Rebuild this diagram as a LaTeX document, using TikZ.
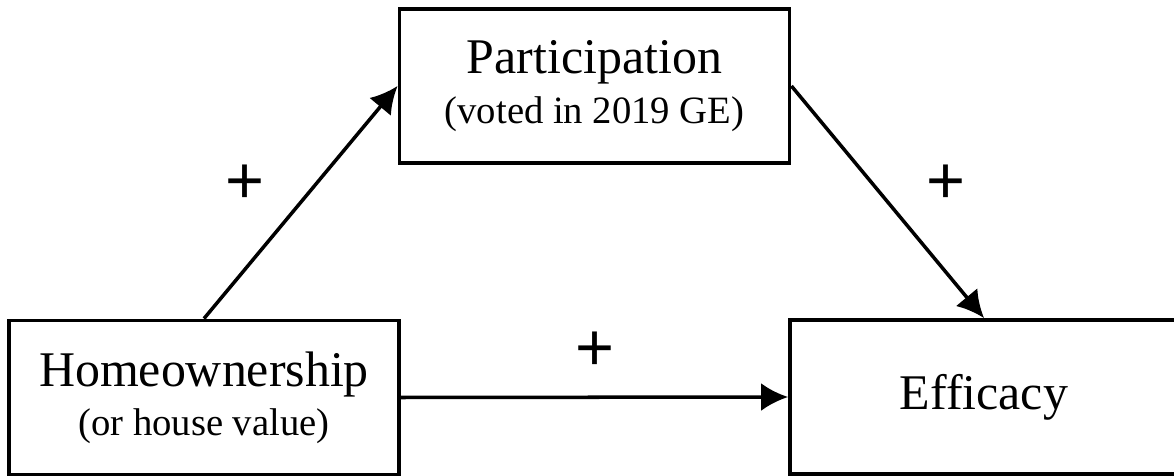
\documentclass[tikz,border=0pt]{standalone}
\usepackage{fontspec}
\setmainfont{Liberation Serif}
\newfontfamily\signfont{Liberation Sans}
\usetikzlibrary{arrows.meta}
\tikzset{
  BoxStyle/.style = { rectangle, draw, line width=1.1pt, fill=white,
                      inner sep=0pt, align=center,
                      minimum width=3.9cm, minimum height=1.54cm },
  SignStyle/.style = { inner sep=0pt,
                       font = \signfont\fontsize{19pt}{19pt}\selectfont },
  EdgeStyle/.style = { -{Latex[length=0.27cm,width=0.28cm]}, line width=1pt } }

\begin{document}
\begin{tikzpicture}
  \useasboundingbox (0,0) rectangle (11.74,4.76);
  \clip (0,0) rectangle (11.74,4.76);
  \node[BoxStyle](P) at (5.945,3.90)
    {\fontsize{14.2pt}{17pt}\selectfont Participation\\[2pt]
     \fontsize{11pt}{13.5pt}\selectfont (voted in 2019 GE)};
  \node[BoxStyle](H) at (2.04,0.785)
    {\fontsize{14.2pt}{17pt}\selectfont Homeownership\\[2pt]
     \fontsize{11pt}{13.5pt}\selectfont (or house value)};
  \node[BoxStyle, minimum width=3.88cm](E) at (9.84,0.79)
    {\fontsize{14.2pt}{17pt}\selectfont Efficacy};
  % signs of the paths
  \node[SignStyle](s1) at (2.45,2.92) {+};
  \node[SignStyle](s2) at (9.46,2.92) {+};
  \node[SignStyle](s3) at (5.95,1.25) {+};
  \draw[EdgeStyle] (H.north) -- (P.west);
  \draw[EdgeStyle] (P.east) -- (E.north);
  \draw[EdgeStyle] (H.east) -- (E.west);
\end{tikzpicture}
\end{document}
